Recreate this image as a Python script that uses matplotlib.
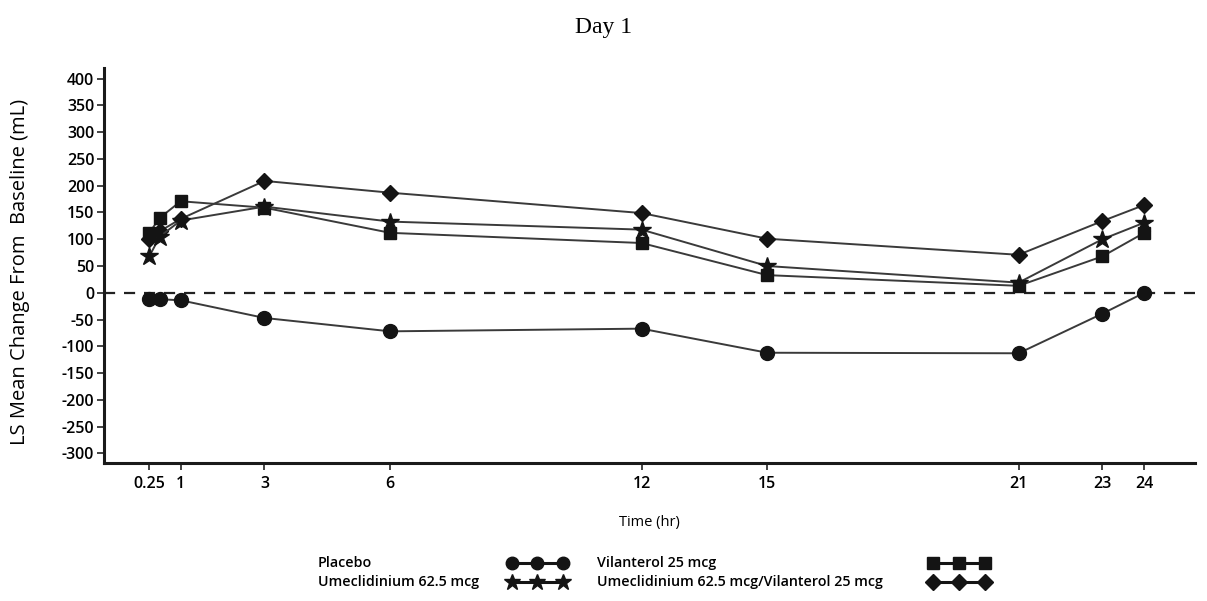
import matplotlib
matplotlib.use("Agg")
import matplotlib.pyplot as plt
from matplotlib.lines import Line2D

times = [0.25, 0.5, 1, 3, 6, 12, 15, 21, 23, 24]
placebo = [-12, -12, -14, -47, -72, -67, -112, -113, -39, 0]
vilanterol = [112, 140, 171, 159, 112, 93, 33, 13, 68, 112]
umec = [68, 105, 135, 161, 133, 118, 50, 19, 100, 131]
umec_vi = [100, 115, 138, 209, 187, 149, 101, 71, 134, 164]

xticks = [0.25, 1, 3, 6, 12, 15, 21, 23, 24]
xticklabels = ["0.25", "1", "3", "6", "12", "15", "21", "23", "24"]
yticks = list(range(-300, 401, 50))

fam = ["Open Sans", "DejaVu Sans"]
plt.rcParams["font.family"] = fam
plt.rcParams["font.weight"] = "semibold"

fig = plt.figure(figsize=(12.07, 6.01), dpi=100)
ax = fig.add_axes([0.0862, 0.2296, 0.9038, 0.6573])

lc = "#3a3a3a"
mc = "#141414"
ax.axhline(0, color="#222222", lw=1.6, ls=(0, (5, 4)), zorder=1)
ax.plot(times, placebo, color=lc, lw=1.4, marker="o", ms=10, mfc=mc, mec=mc, zorder=3)
ax.plot(times, vilanterol, color=lc, lw=1.4, marker="s", ms=8.5, mfc=mc, mec=mc, zorder=3)
ax.plot(times, umec, color=lc, lw=1.4, marker="*", ms=13.5, mfc=mc, mec=mc, zorder=4)
ax.plot(times, umec_vi, color=lc, lw=1.4, marker="D", ms=8.5, mfc=mc, mec=mc, zorder=3)

ax.set_xlim(-0.83, 25.21)
ax.set_ylim(-318, 420)
ax.set_xticks(xticks)
ax.set_xticklabels(xticklabels)
ax.set_yticks(yticks)
ax.set_yticklabels([str(v) for v in yticks])
ax.tick_params(axis="both", labelsize=11.5, length=5, width=1.2, color="#222222", pad=2)
ax.tick_params(axis="x", pad=4)
for s in ["top", "right"]:
    ax.spines[s].set_visible(False)
for s in ["left", "bottom"]:
    ax.spines[s].set_linewidth(2.2)
    ax.spines[s].set_color("#1a1a1a")

ax.set_ylabel("LS Mean Change From  Baseline (mL)", fontsize=14.5)
ax.yaxis.set_label_coords(-0.068, 0.484)
ax.set_xlabel("Time (hr)", fontsize=10.5, labelpad=17)

fig.text(0.5, 0.955, "Day 1", ha="center", va="center", fontsize=17, fontweight="normal",
         family=["Liberation Serif", "DejaVu Serif"])

# legend
def leg_sample(x0, x1, y, marker, ms):
    fig.add_artist(Line2D([x0, (x0 + x1) / 2, x1], [y, y, y], transform=fig.transFigure,
                          color=mc, lw=2.2, marker=marker, ms=ms, mfc=mc, mec=mc))

ty1 = 1 - 563 / 601
ty2 = 1 - 582 / 601
fig.text(318 / 1207, ty1, "Placebo", fontsize=10.3, va="center")
fig.text(318 / 1207, ty2, "Umeclidinium 62.5 mcg", fontsize=10.3, va="center")
fig.text(597 / 1207, ty1, "Vilanterol 25 mcg", fontsize=10.3, va="center")
fig.text(597 / 1207, ty2, "Umeclidinium 62.5 mcg/Vilanterol 25 mcg", fontsize=10.3, va="center")
leg_sample(512 / 1207, 563 / 1207, ty1, "o", 9)
leg_sample(512 / 1207, 563 / 1207, ty2, "*", 12)
leg_sample(933 / 1207, 985 / 1207, ty1, "s", 8)
leg_sample(933 / 1207, 985 / 1207, ty2, "D", 8)

fig.savefig("out.png", dpi=100)
